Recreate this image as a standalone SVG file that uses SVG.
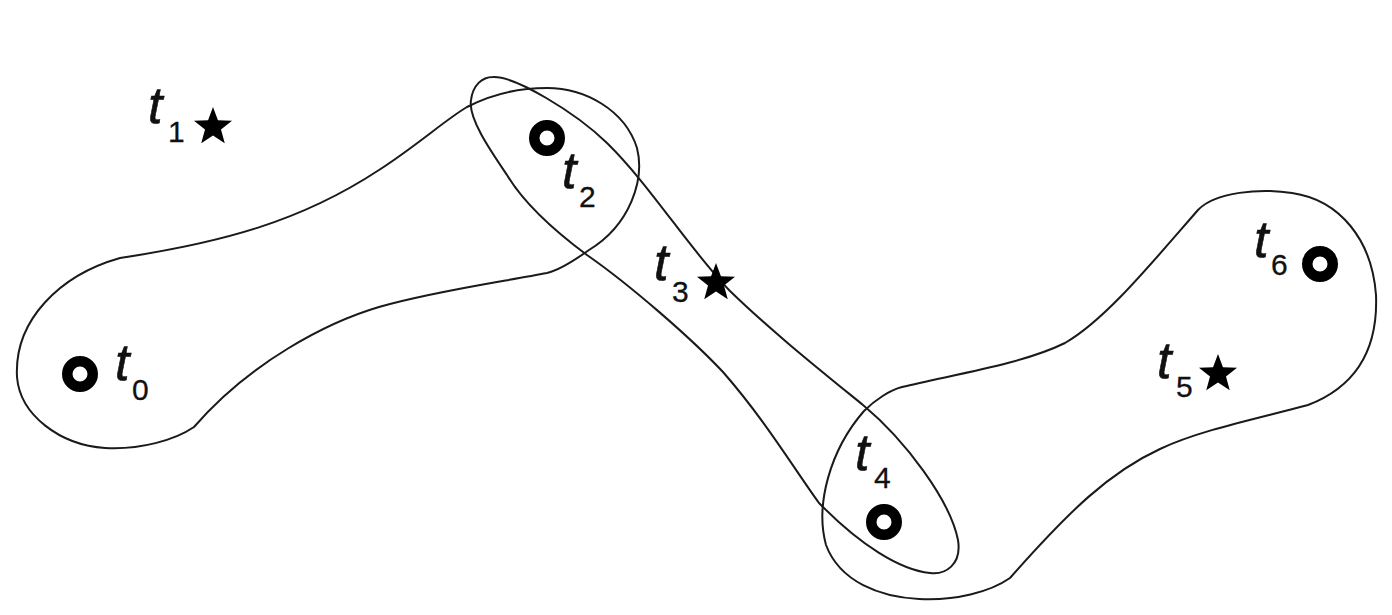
<svg xmlns="http://www.w3.org/2000/svg" xmlns:xlink="http://www.w3.org/1999/xlink" width="1392" height="615" viewBox="0 0 1392 615">
<style>
.region{fill:none;stroke:#1a1a1a;stroke-width:2;stroke-linejoin:round}
.ring{fill:none;stroke:#000;stroke-width:10.5}
.star{fill:#000}
.it{font-family:"Liberation Sans",Arial,sans-serif;font-style:italic;font-size:52px;fill:#111;stroke:#111;stroke-width:0.6}
.sub{font-family:"Liberation Sans",Arial,sans-serif;font-style:normal;font-size:30px;fill:#111;stroke:#111;stroke-width:0.3}
</style>
<defs>
<path id="starShape" class="star" d="M0,-20 L4.94,-6.8 L19.02,-6.18 L7.99,2.6 L11.76,16.18 L0,8.4 L-11.76,16.18 L-7.99,2.6 L-19.02,-6.18 L-4.94,-6.8 Z"/>
</defs>
<rect width="1392" height="615" fill="#fff"/>
<g id="regions">
<path id="regionA" class="region" d="M120,258 C220,243 300,222 379,170 C419,144 445,120 467,107 C490,95 515,88 547,88 C585,88 625,110 637,148 C645,180 630,225 589,250 C575,260 560,270 547,273 C500,282 430,292 379,307 C328,322 250,362 194,427 C175,440 140,450 105,448 C60,445 20,415 17,377 C14,320 60,275 120,258 Z"/>
<path id="regionB" class="region" d="M493,77 C515,76 575,112 607,143 C650,185 690,250 730,291 C770,330 820,370 863,405 C905,440 950,500 958,540 C962,565 945,575 930,573 C900,570 860,545 819,503 C795,470 765,420 723,372 C690,337 630,285 587,255 C560,235 525,205 507,175 C490,150 468,118 471,100 C473,85 482,77 493,77 Z"/>
<path id="regionC" class="region" d="M902,387 C950,375 1020,365 1065,343 C1105,320 1150,265 1198,210 C1215,192 1260,188 1292,193 C1340,200 1372,240 1376,295 C1378,345 1360,385 1308,405 C1260,418 1200,430 1160,449 C1110,472 1070,510 1010,578 C990,592 955,601 919,599 C880,597 840,582 826,545 C815,505 830,450 864,411 C875,400 890,390 902,387 Z"/>
</g>
<g id="t0">
<circle class="ring" cx="80" cy="374" r="12.75"/>
<text class="it" x="115" y="380">t</text><text class="sub" x="132" y="400">0</text>
</g>
<g id="t1">
<use xlink:href="#starShape" href="#starShape" transform="translate(213,127)"/>
<text class="it" x="148" y="123">t</text><text class="sub" x="168" y="142">1</text>
</g>
<g id="t2">
<circle class="ring" cx="547" cy="138" r="12.75"/>
<text class="it" x="562" y="188">t</text><text class="sub" x="579" y="207">2</text>
</g>
<g id="t3">
<use xlink:href="#starShape" href="#starShape" transform="translate(716,283)"/>
<text class="it" x="654" y="280">t</text><text class="sub" x="672" y="302">3</text>
</g>
<g id="t4">
<circle class="ring" cx="884" cy="522" r="12.75"/>
<text class="it" x="855" y="470">t</text><text class="sub" x="874" y="488">4</text>
</g>
<g id="t5">
<use xlink:href="#starShape" href="#starShape" transform="translate(1218,374)"/>
<text class="it" x="1157" y="378">t</text><text class="sub" x="1176" y="397">5</text>
</g>
<g id="t6">
<circle class="ring" cx="1320" cy="264" r="12.75"/>
<text class="it" x="1254" y="257">t</text><text class="sub" x="1271" y="275">6</text>
</g>
</svg>
